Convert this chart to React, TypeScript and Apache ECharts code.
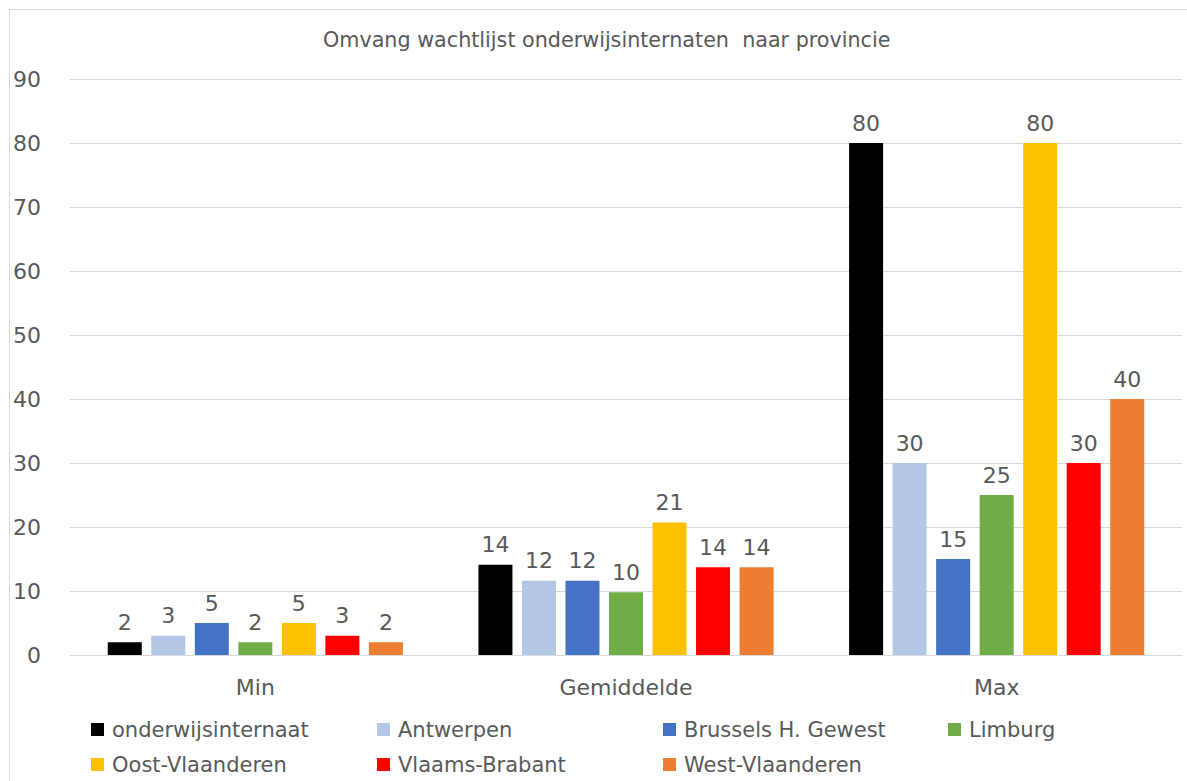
import React, { useEffect, useRef } from "react";
import * as echarts from "echarts";

const categories = ["Min", "Gemiddelde", "Max"];
const seriesNames = [
  "onderwijsinternaat",
  "Antwerpen",
  "Brussels H. Gewest",
  "Limburg",
  "Oost-Vlaanderen",
  "Vlaams-Brabant",
  "West-Vlaanderen",
];
const onderwijsinternaat = [2, 14.1, 80];
const antwerpen = [3, 11.6, 30];
const brussels = [5, 11.6, 15];
const limburg = [2, 9.8, 25];
const oostVlaanderen = [5, 20.7, 80];
const vlaamsBrabant = [3, 13.7, 30];
const westVlaanderen = [2, 13.7, 40];
const seriesValues = [onderwijsinternaat, antwerpen, brussels, limburg, oostVlaanderen, vlaamsBrabant, westVlaanderen];
const colors = ["#000000", "#B4C7E7", "#4472C4", "#70AD47", "#FFC000", "#FF0000", "#ED7D31"];
const yTicks = { min: 0, max: 90, interval: 10 };

const FONT = "DejaVu Sans";
const TEXT = "#595959";

export default function App() {
  const ref = useRef<HTMLDivElement>(null);
  useEffect(() => {
    if (!ref.current) return;
    const chart = echarts.init(ref.current, undefined, { renderer: "svg" });
    const colLeft = [86, 372, 658, 943];
    const rowTop = [714, 749];
    const legends = seriesNames.map((name, i) => ({
      data: [name],
      left: colLeft[i % 4],
      top: rowTop[Math.floor(i / 4)],
      itemWidth: 13,
      itemHeight: 13,
      icon: "rect",
      textStyle: { fontFamily: FONT, fontSize: 21, color: TEXT, padding: [0, 0, 0, 3] },
    }));
    chart.setOption({
      animation: false,
      backgroundColor: "#ffffff",
      title: {
        text: "Omvang wachtlijst onderwijsinternaten  naar provincie",
        left: 318,
        top: 24,
        textStyle: { fontFamily: FONT, fontSize: 20.7, fontWeight: "normal", color: TEXT },
      },
      graphic: [
        { type: "line", shape: { x1: 9.5, y1: 9.5, x2: 1187, y2: 9.5 }, style: { stroke: "#d9d9d9", lineWidth: 1 } },
        { type: "line", shape: { x1: 9.5, y1: 9.5, x2: 9.5, y2: 781 }, style: { stroke: "#d9d9d9", lineWidth: 1 } },
      ],
      legend: legends,
      grid: { left: 70, right: 5, top: 79, bottom: 126, containLabel: false },
      xAxis: {
        type: "category",
        data: categories,
        axisLine: { lineStyle: { color: "#d9d9d9" } },
        axisTick: { show: false },
        axisLabel: { fontFamily: FONT, fontSize: 22, color: TEXT, margin: 21 },
      },
      yAxis: {
        type: "value",
        min: yTicks.min,
        max: yTicks.max,
        interval: yTicks.interval,
        axisLine: { show: false },
        axisTick: { show: false },
        splitLine: { lineStyle: { color: "#d9d9d9" } },
        axisLabel: { fontFamily: FONT, fontSize: 22, color: TEXT, margin: 29 },
      },
      series: seriesNames.map((name, i) => ({
        name,
        type: "bar",
        data: seriesValues[i],
        barWidth: 34,
        barGap: "28%",
        itemStyle: { color: colors[i] },
        label: {
          show: true,
          position: "top",
          distance: 9,
          fontFamily: FONT,
          fontSize: 22,
          color: TEXT,
          formatter: (p: any) => String(Math.round(p.value)),
        },
      })),
    });
    return () => chart.dispose();
  }, []);
  return (
    <div
      ref={ref}
      style={{ position: "absolute", left: 0, top: 0, width: 1187, height: 781 }}
    />
  );
}
